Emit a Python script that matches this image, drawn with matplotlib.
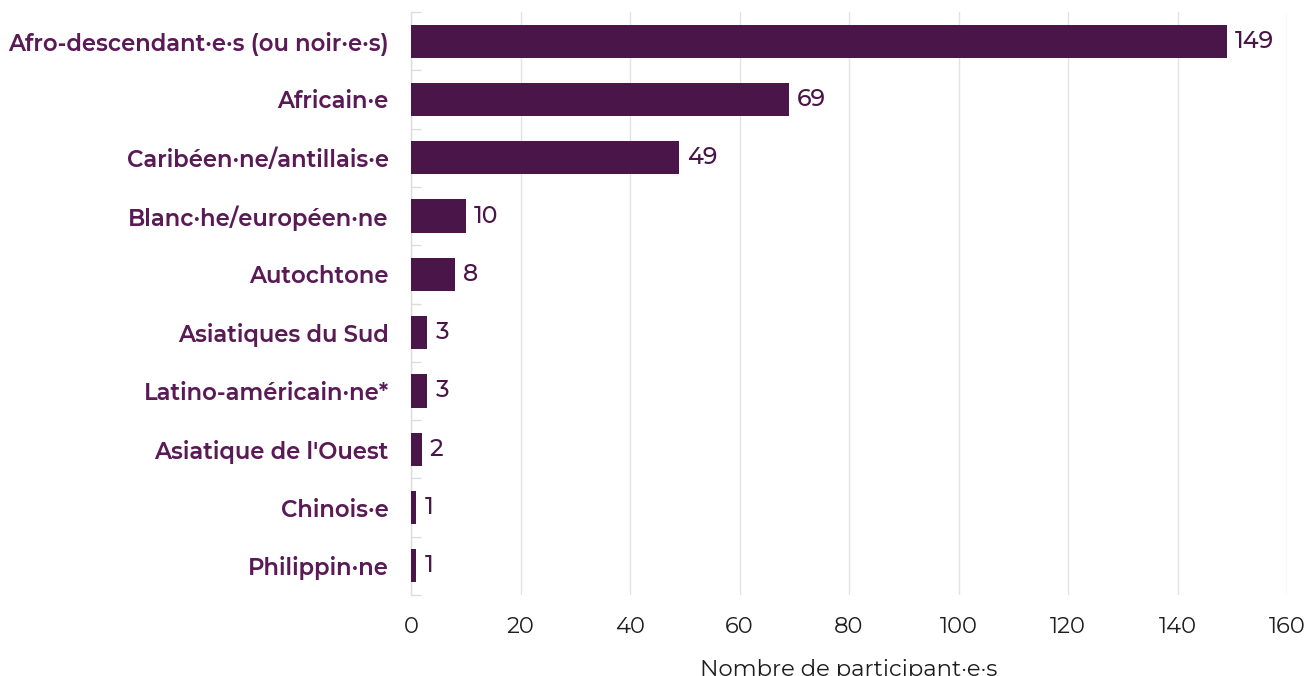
import matplotlib
matplotlib.use("Agg")
import matplotlib.pyplot as plt
from matplotlib import font_manager as fm
from matplotlib.font_manager import FontProperties
import numpy as np

categories = [
    "Afro-descendant·e·s (ou noir·e·s)",
    "Africain·e",
    "Caribéen·ne/antillais·e",
    "Blanc·he/européen·ne",
    "Autochtone",
    "Asiatiques du Sud",
    "Latino-américain·ne*",
    "Asiatique de l'Ouest",
    "Chinois·e",
    "Philippin·ne",
]
counts = [149, 69, 49, 10, 8, 3, 3, 2, 1, 1]
x_ticks = [0, 20, 40, 60, 80, 100, 120, 140, 160]
x_label = "Nombre de participant·e·s"

bar_color = "#4a1548"
label_color = "#5a1a56"
text_color = "#1e1e1e"


def montserrat(weight, size):
    """Static Montserrat instance at the given weight (variable font -> fixed)."""
    src = [f.fname for f in fm.fontManager.ttflist
           if f.fname.endswith("Montserrat[wght].ttf")]
    try:
        from fontTools.ttLib import TTFont
        from fontTools.varLib import instancer
        vf = TTFont(src[0])
        inst = instancer.instantiateVariableFont(vf, {"wght": weight})
        path = f"Montserrat-w{weight}.ttf"
        inst.save(path)
        return FontProperties(fname=path, size=size)
    except Exception:
        return FontProperties(family="Montserrat Alternates", weight=weight, size=size)


fp_cat = montserrat(620, 16.3)
fp_val = montserrat(500, 17)
fp_tick = montserrat(400, 16.3)

fig = plt.figure(figsize=(13.09, 6.76), dpi=100)
ax = fig.add_axes([411 / 1309, 1 - 595 / 676, 876 / 1309, 583 / 676])

y = np.arange(len(categories))
ax.barh(y, counts, height=0.57, color=bar_color, zorder=3)

for yi, v in zip(y, counts):
    ax.text(v + 1.5, yi, str(v), va="center", ha="left",
            fontproperties=fp_val, color=bar_color)

ax.set_xlim(0, 160)
ax.set_ylim(len(categories) - 0.5, -0.5)
ax.set_xticks(x_ticks)
ax.set_xticklabels([str(t) for t in x_ticks], fontproperties=fp_tick, color=text_color)
ax.set_yticks(y)
ax.set_yticklabels(categories, fontproperties=fp_cat, color=label_color)
ax.tick_params(axis="y", length=0, pad=16)
ax.tick_params(axis="x", length=0, pad=15)

# short marks separating categories on the value axis
ax.set_yticks(np.arange(-0.5, len(categories), 1), minor=True)
ax.tick_params(axis="y", which="minor", direction="in", length=7,
               color="#dddddd", width=1)

ax.grid(axis="x", color="#e2e2e2", linewidth=1, zorder=0)
for side in ["top", "right", "bottom"]:
    ax.spines[side].set_visible(False)
ax.spines["left"].set_color("#dddddd")
ax.spines["left"].set_linewidth(1)

ax.set_xlabel(x_label, fontproperties=fp_tick, color=text_color, labelpad=16)

fig.savefig("out.png", dpi=100, facecolor="white")
